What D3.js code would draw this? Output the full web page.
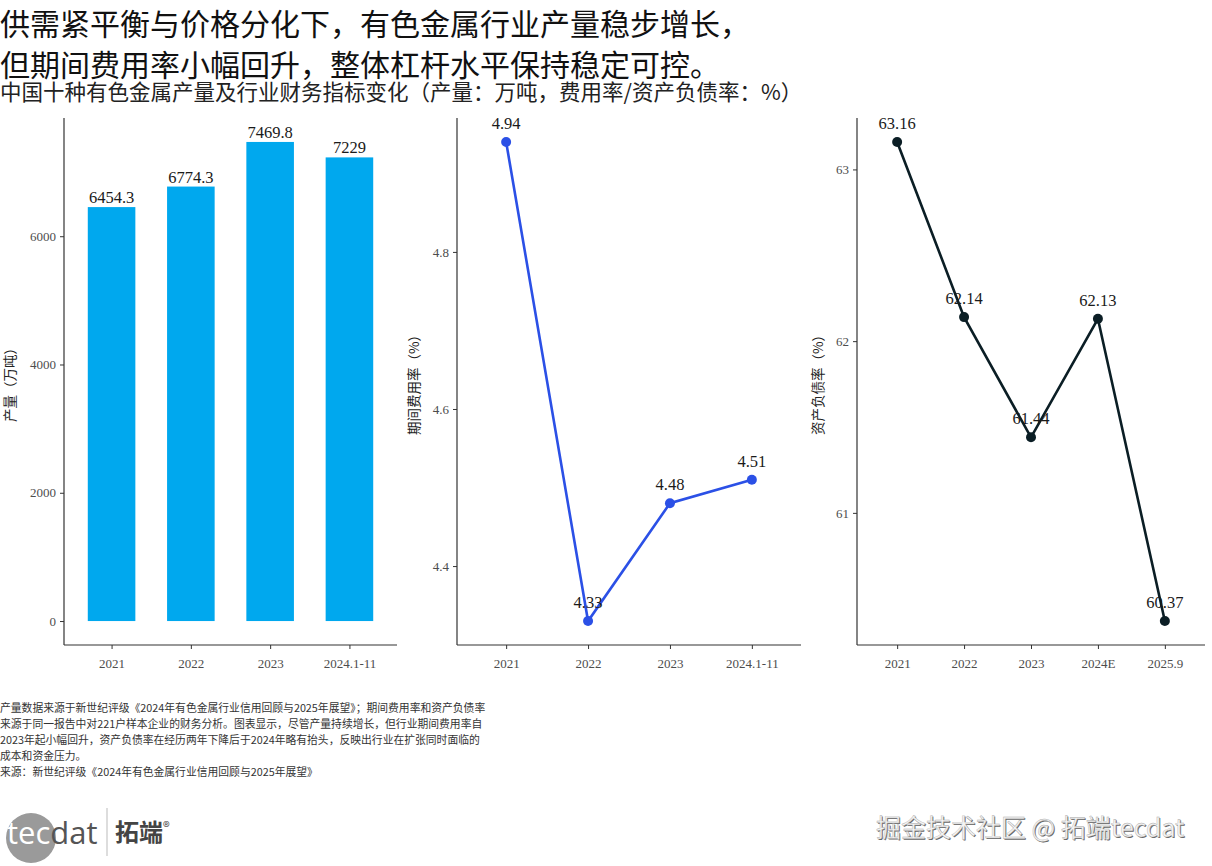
<!DOCTYPE html>
<html>
<head>
<meta charset="utf-8">
<script src="https://cdn.jsdelivr.net/npm/d3@7"></script>
<style>
  body { margin: 0; background: #fff; }
  svg { display: block; }
  .tick text { font-family: "Liberation Serif", "DejaVu Serif", serif; font-size: 13px; fill: #4d4d4d; }
  .tick line, .domain { stroke: #333; }
</style>
</head>
<body>
<div id="chart"></div>
<script>
// data
var prodYears = ["2021", "2022", "2023", "2024.1-11"];
var prodValues = [6454.3, 6774.3, 7469.8, 7229];
var prodLabels = ["6454.3", "6774.3", "7469.8", "7229"];
var prodTicks = [0, 2000, 4000, 6000];

var expYears = ["2021", "2022", "2023", "2024.1-11"];
var expValues = [4.94, 4.33, 4.48, 4.51];
var expTicks = [4.4, 4.6, 4.8];

var debtYears = ["2021", "2022", "2023", "2024E", "2025.9"];
var debtValues = [63.16, 62.14, 61.44, 62.13, 60.37];
var debtTicks = [61, 62, 63];

var title1 = "供需紧平衡与价格分化下，有色金属行业产量稳步增长，";
var title2 = "但期间费用率小幅回升，整体杠杆水平保持稳定可控。";
var subtitle = "中国十种有色金属产量及行业财务指标变化（产量：万吨，费用率/资产负债率：%）";
var notes = [
  "产量数据来源于新世纪评级《2024年有色金属行业信用回顾与2025年展望》；期间费用率和资产负债率",
  "来源于同一报告中对221户样本企业的财务分析。图表显示，尽管产量持续增长，但行业期间费用率自",
  "2023年起小幅回升，资产负债率在经历两年下降后于2024年略有抬头，反映出行业在扩张同时面临的",
  "成本和资金压力。",
  "来源：新世纪评级《2024年有色金属行业信用回顾与2025年展望》"
];

var W = 1212, H = 866;
var plotTop = 118, plotBottom = 645;
var cjk = "'Noto Sans CJK SC', sans-serif";
var serif = "'Liberation Serif', 'DejaVu Serif', serif";

var svg = d3.select("#chart").append("svg")
    .attr("width", W)
    .attr("height", H);

// titles
svg.append("text").attr("x", 0).attr("y", 35)
    .style("font-family", cjk).style("font-size", "30px").attr("fill", "#111")
    .text(title1);
svg.append("text").attr("x", 0).attr("y", 76)
    .style("font-family", cjk).style("font-size", "30px").attr("fill", "#111")
    .text(title2);
svg.append("text").attr("x", 0).attr("y", 100)
    .style("font-family", cjk).style("font-size", "21.5px").attr("fill", "#222")
    .text(subtitle);

// ggplot style 5% expansion
function expand(lo, hi) {
  var pad = (hi - lo) * 0.05;
  return [lo - pad, hi + pad];
}

function axes(g, x, y, ticks, left, right, label, labelX) {
  g.append("g")
      .attr("transform", "translate(0," + plotBottom + ")")
      .call(d3.axisBottom(x).tickSize(4).tickSizeOuter(0))
      .call(function(a) {
        a.select(".domain").attr("d", "M" + left + ",0H" + right).attr("stroke-width", 1.2);
        a.selectAll(".tick text").attr("dy", "1.25em");
      });
  g.append("g")
      .attr("transform", "translate(" + left + ",0)")
      .call(d3.axisLeft(y).tickValues(ticks).tickSize(4).tickSizeOuter(0).tickFormat(d3.format("")))
      .call(function(a) {
        a.select(".domain").attr("d", "M0," + plotTop + "V" + plotBottom).attr("stroke-width", 1.2);
        a.selectAll(".tick text").attr("x", -8);
      });
  g.append("text")
      .attr("transform", "translate(" + labelX + "," + ((plotTop + plotBottom) / 2) + ") rotate(-90)")
      .attr("text-anchor", "middle")
      .style("font-family", cjk).style("font-size", "13.5px").attr("fill", "#222")
      .text(label);
}

// panel 1: production bars
var x1 = d3.scalePoint().domain(prodYears).range([64, 397]).padding(0.6);
var y1 = d3.scaleLinear().domain(expand(0, d3.max(prodValues))).range([plotBottom, plotTop]);
var g1 = svg.append("g");
axes(g1, x1, y1, prodTicks, 64, 397, "产量（万吨）", 15);
var bw = x1.step() * 0.6;
g1.selectAll("rect.bar")
    .data(prodValues)
  .enter().append("rect")
    .attr("class", "bar")
    .attr("x", function(d, i) { return x1(prodYears[i]) - bw / 2; })
    .attr("width", bw)
    .attr("y", function(d) { return y1(d); })
    .attr("height", function(d) { return y1(0) - y1(d); })
    .attr("fill", "#00A8EE");
g1.selectAll("text.val")
    .data(prodValues)
  .enter().append("text")
    .attr("class", "val")
    .attr("x", function(d, i) { return x1(prodYears[i]); })
    .attr("y", function(d) { return y1(d) - 4; })
    .attr("text-anchor", "middle")
    .style("font-family", serif).style("font-size", "16.5px").attr("fill", "#1a1a1a")
    .text(function(d, i) { return prodLabels[i]; });

// line panel helper
function linePanel(years, values, ticks, left, right, color, label, labelX) {
  var x = d3.scalePoint().domain(years).range([left, right]).padding(0.6);
  var y = d3.scaleLinear().domain(expand(d3.min(values), d3.max(values))).range([plotBottom, plotTop]);
  var g = svg.append("g");
  axes(g, x, y, ticks, left, right, label, labelX);
  var line = d3.line()
      .x(function(d, i) { return x(years[i]); })
      .y(function(d) { return y(d); });
  g.append("path")
      .datum(values)
      .attr("d", line)
      .attr("fill", "none")
      .attr("stroke", color)
      .attr("stroke-width", 2.6);
  g.selectAll("circle")
      .data(values)
    .enter().append("circle")
      .attr("cx", function(d, i) { return x(years[i]); })
      .attr("cy", function(d) { return y(d); })
      .attr("r", 5)
      .attr("fill", color);
  g.selectAll("text.val")
      .data(values)
    .enter().append("text")
      .attr("class", "val")
      .attr("x", function(d, i) { return x(years[i]); })
      .attr("y", function(d) { return y(d) - 13; })
      .attr("text-anchor", "middle")
      .style("font-family", serif).style("font-size", "16.5px").attr("fill", "#1a1a1a")
      .text(function(d) { return d3.format(".2f")(d); });
}

linePanel(expYears, expValues, expTicks, 457, 801, "#2B50E6", "期间费用率（%）", 419);
linePanel(debtYears, debtValues, debtTicks, 857, 1205, "#0B1E25", "资产负债率（%）", 823);

// footnote
svg.append("g").selectAll("text")
    .data(notes)
  .enter().append("text")
    .attr("x", 0)
    .attr("y", function(d, i) { return 712 + i * 16; })
    .style("font-family", cjk).style("font-size", "10.8px").attr("fill", "#333")
    .text(function(d) { return d; });

// logo
var logo = svg.append("g");
logo.append("circle").attr("cx", 31).attr("cy", 838).attr("r", 25).attr("fill", "#9a9a9a");
var lt = logo.append("text").attr("x", 7).attr("y", 844)
    .style("font-family", "'Open Sans', 'DejaVu Sans', sans-serif").style("font-size", "31px");
lt.append("tspan").attr("fill", "#fff").text("tec");
lt.append("tspan").attr("fill", "#555").text("dat");
logo.append("line").attr("x1", 107).attr("x2", 107).attr("y1", 808).attr("y2", 856)
    .attr("stroke", "#bbb").attr("stroke-width", 1);
var lz = logo.append("text").attr("x", 115).attr("y", 841)
    .style("font-family", cjk).style("font-size", "24px").style("font-weight", "bold").attr("fill", "#444");
lz.append("tspan").text("拓端");
lz.append("tspan").attr("dy", -9).style("font-size", "14px").style("font-weight", "normal").text("®");

// watermark
var wm = "掘金技术社区 @ 拓端tecdat";
svg.append("text").attr("x", 877).attr("y", 838)
    .style("font-family", cjk).style("font-size", "25px").attr("fill", "#666")
    .text(wm);
svg.append("text").attr("x", 876).attr("y", 837)
    .style("font-family", cjk).style("font-size", "25px").attr("fill", "#f4f4f4")
    .attr("stroke", "#aaa").attr("stroke-width", 0.4)
    .text(wm);
</script>
</body>
</html>
